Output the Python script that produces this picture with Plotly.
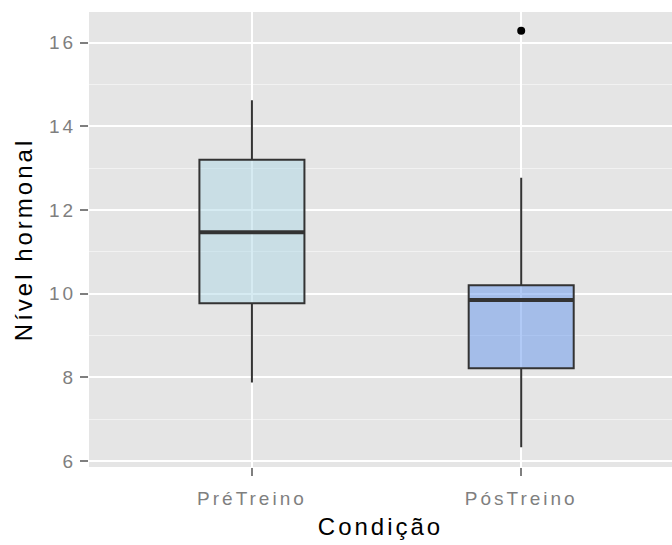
import plotly.graph_objects as go

categories = ["PréTreino", "PósTreino"]
lower_fence = [7.88, 6.33]
q1 = [9.77, 8.22]
median = [11.47, 9.85]
q3 = [13.2, 10.2]
upper_fence = [14.62, 12.77]
outlier_cat = ["PósTreino"]
outlier_val = [16.28]
fills = ["rgba(173,216,230,0.5)", "rgba(100,149,237,0.5)"]

BOX_W = 0.39
LINE = "#333333"

fig = go.Figure()
for i, c in enumerate(categories):
    fig.add_trace(go.Box(
        x=[i], q1=[q1[i]], median=[median[i]], q3=[q3[i]],
        lowerfence=[lower_fence[i]], upperfence=[upper_fence[i]],
        width=BOX_W, whiskerwidth=0, fillcolor=fills[i],
        line=dict(color=LINE, width=2), boxpoints=False,
        showlegend=False, hoverinfo="skip",
    ))
    fig.add_trace(go.Scatter(
        x=[i - BOX_W / 2, i + BOX_W / 2], y=[median[i], median[i]],
        mode="lines", line=dict(color=LINE, width=4),
        showlegend=False, hoverinfo="skip",
    ))

fig.add_trace(go.Scatter(
    x=[categories.index(c) for c in outlier_cat], y=outlier_val,
    mode="markers", marker=dict(color="black", size=8),
    showlegend=False, hoverinfo="skip",
))

fig.update_layout(
    width=672, height=545,
    margin=dict(l=89, r=0, t=12, b=78),
    paper_bgcolor="white", plot_bgcolor="#e5e5e5",
    font=dict(family="Liberation Sans, Arial", color="#7f7f7f"),
)
fig.update_xaxes(
    range=[-0.605, 1.56],
    tickvals=list(range(len(categories))), ticktext=categories,
    tickfont=dict(size=19, color="#7f7f7f"),
    ticks="outside", ticklen=8, tickwidth=2, tickcolor="#7f7f7f",
    ticklabelstandoff=6,
    showgrid=True, gridcolor="white", gridwidth=2,
    zeroline=False, showline=False,
    title=dict(text="Condição", font=dict(size=24, color="black"), standoff=10),
)
fig.update_yaxes(
    range=[5.86, 16.73],
    tickvals=[6, 8, 10, 12, 14, 16],
    tickfont=dict(size=19, color="#7f7f7f"),
    ticks="outside", ticklen=8, tickwidth=2, tickcolor="#7f7f7f",
    showgrid=True, gridcolor="white", gridwidth=2,
    minor=dict(tickvals=[7, 9, 11, 13, 15], showgrid=True, gridcolor="#f2f2f2", gridwidth=1, ticks=""),
    zeroline=False, showline=False,
    title=dict(text="Nível hormonal", font=dict(size=24, color="black"), standoff=15),
)

post = """
document.body.style.margin = '0';
var st = document.createElement('style');
st.textContent = '.xtick text, .ytick text, .g-xtitle text, .g-ytitle text {letter-spacing: 3px;}';
document.head.appendChild(st);
"""
fig.write_html("out.html", post_script=post, config={"displayModeBar": False})
